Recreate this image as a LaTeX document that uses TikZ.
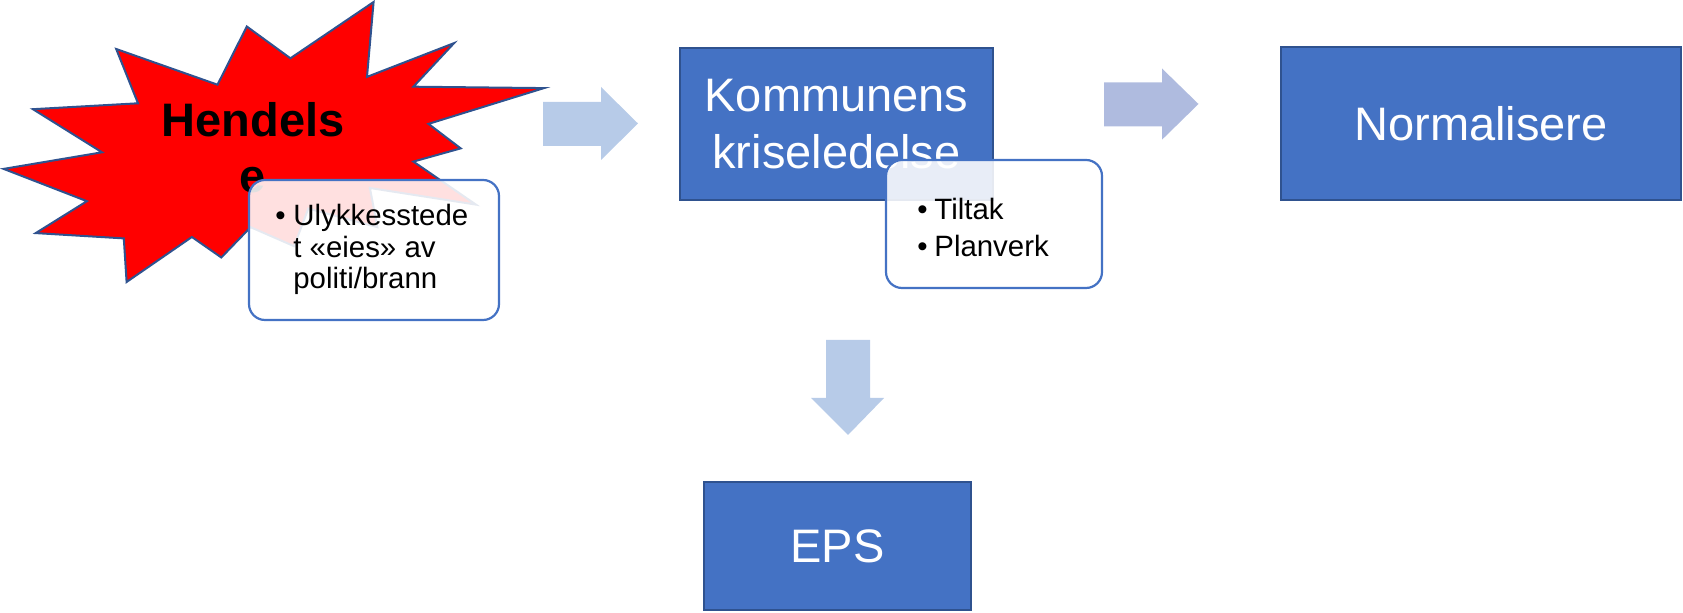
\documentclass[tikz,border=0pt]{standalone}
\usepackage{fontspec}
\setmainfont{Liberation Sans}
\definecolor{boxblue}{HTML}{4472C4}
\definecolor{boxedge}{HTML}{2F528F}
\definecolor{arrowa}{HTML}{B7CBE8}
\definecolor{arrowb}{HTML}{AFBBDF}
\definecolor{burstred}{HTML}{FF0000}
\tikzset{
  bluebox/.style={draw=boxedge, line width=1.1pt, fill=boxblue, text=white,
    align=center, inner sep=0pt, font=\fontsize{23.5}{28.5}\selectfont},
  notebox/.style={draw=boxblue, line width=1.1pt, fill=white, fill opacity=0.88,
    rounded corners=8pt, inner sep=0pt},
  notetext/.style={anchor=base west, inner sep=0pt, font=\fontsize{14.7}{15.75}\selectfont},
  blockarrow/.style={draw=none},
  burst/.style={fill=burstred, draw=boxedge, line width=1pt, line join=miter}
}
\begin{document}
\begin{tikzpicture}[x=0.5pt,y=-0.5pt]
\useasboundingbox (0,0) rectangle (1683,613);

% Explosion shape
\draw[burst] (290.4,58.3) -- (373.6,2) -- (367.0,76.9) -- (454.1,43.1) -- (413.4,86.7)
  -- (544,88.1) -- (428.5,123.9) -- (460.7,148.4) -- (413.4,161.6) -- (475.9,204.6)
  -- (369.9,188) -- (377.4,227.2) -- (308.3,208.6) -- (294.1,246.2) -- (250.6,227.2)
  -- (221.3,257.5) -- (191.9,237) -- (126.6,282) -- (123.8,238.4) -- (35.7,233.1)
  -- (86.9,201.2) -- (3.6,168.9) -- (102,152.3) -- (32.9,109.2) -- (138,103.3)
  -- (116.2,49) -- (217.5,84.7) -- (246.8,26.5) -- cycle;
\node[align=center, inner sep=0pt, font=\fontsize{23.5}{28}\selectfont\bfseries]
  (hend) at (253,148) {Hendels\\e};

% Note 1
\node[notebox, minimum width=125pt, minimum height=70pt] (note1) at (374,250) {};
\node[notetext] (b1) at (275,226) {•};
\node[notetext] (n1a) at (293,226) {Ulykkesstede};
\node[notetext] (n1b) at (293,258) {t «eies» av};
\node[notetext] (n1c) at (293,289) {politi/brann};

% Block arrows
\fill[arrowa] (543,102) -- (601,102) -- (601,87) -- (638,123.5) -- (601,160) -- (601,146) -- (543,146) -- cycle;
\fill[arrowb] (1104,82.5) -- (1162,82.5) -- (1162,68.5) -- (1198.5,104) -- (1162,139.7) -- (1162,126.4) -- (1104,126.4) -- cycle;
\fill[arrowa] (826,340) -- (870,340) -- (870,398) -- (884,398) -- (848,435) -- (811,398) -- (826,398) -- cycle;

% Main boxes
\node[bluebox, minimum width=156.5pt, minimum height=76pt] (komm) at (836.5,124) {Kommunens\\kriseledelse};
\node[bluebox, minimum width=200pt, minimum height=76.5pt] (norm) at (1481,123.5) {Normalisere};
\node[bluebox, minimum width=133.5pt, minimum height=64pt] (eps) at (837.5,546) {EPS};

% Note 2
\node[notebox, minimum width=108pt, minimum height=64pt] (note2) at (994,224) {};
\node[notetext] (b2a) at (917,220) {•};
\node[notetext] (n2a) at (934,220) {Tiltak};
\node[notetext] (b2b) at (917,257) {•};
\node[notetext] (n2b) at (934,257) {Planverk};
\end{tikzpicture}
\end{document}
